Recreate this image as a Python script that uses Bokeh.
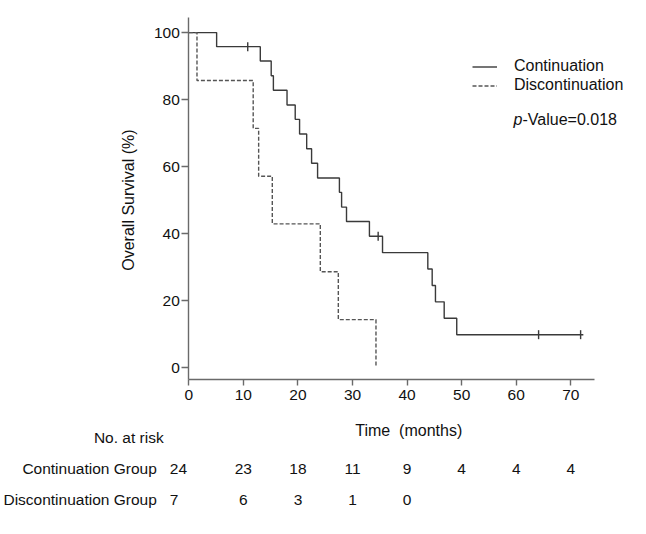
import numpy as np
from bokeh.plotting import figure
from bokeh.models import Range1d, Legend, LegendItem, FixedTicker
from bokeh.embed import file_html
from bokeh.resources import INLINE
from bokeh.core.properties import value

# ---------------- data ----------------
cont_time = [0, 5.1, 13.1, 15.1, 15.5, 18.0, 19.5, 20.3, 21.6, 22.5, 23.6,
             27.6, 28.0, 28.9, 33.1, 35.5, 43.8, 44.6, 45.2, 46.8, 49.1, 72.3]
cont_surv = [100, 95.8, 91.5, 87.1, 82.8, 78.4, 74.1, 69.7, 65.3, 61.0, 56.6,
             52.3, 47.9, 43.6, 39.2, 34.3, 29.4, 24.5, 19.6, 14.7, 9.8, 9.8]
cont_cens_time = [10.8, 34.7, 64.1, 71.8]
cont_cens_surv = [95.8, 39.2, 9.8, 9.8]

disc_time = [0, 1.5, 11.8, 12.8, 15.3, 24.1, 27.4, 34.3]
disc_surv = [100, 85.7, 71.4, 57.1, 42.9, 28.6, 14.3, 0]

x_ticks = [0, 10, 20, 30, 40, 50, 60, 70]
y_ticks = [0, 20, 40, 60, 80, 100]

risk_times = [0, 10, 20, 30, 40, 50, 60, 70]
risk_cont = [24, 23, 18, 11, 9, 4, 4, 4]
risk_disc = [7, 6, 3, 1, 0]

# ---------------- layout / style ----------------
FONT = "Liberation Sans"
TXT = "#111111"
AX = "#6a6a6a"
LINE1 = "#3a3a3a"
LINE2 = "#555555"
W, H = 640, 520

# axis extents (data units) and where they sit on the canvas (px)
X_AXIS = (0, 74.4)
Y_AXIS = (-3.6, 104.5)
X0_PX, X_SCALE = 188.3, 5.457      # px of x=0, px per month
Y0_PX, Y_SCALE = 367.0, 3.349      # px (from top) of y=0, px per %

x_range = Range1d(-X0_PX / X_SCALE, (W - X0_PX) / X_SCALE)
y_range = Range1d((Y0_PX - H) / Y_SCALE, Y0_PX / Y_SCALE)

p = figure(width=W, height=H, output_backend="svg", toolbar_location=None,
           x_range=x_range, y_range=y_range,
           min_border_left=0, min_border_right=0, min_border_top=0, min_border_bottom=0)
p.outline_line_color = None
p.grid.visible = False

for ax in (p.xaxis[0], p.yaxis[0]):
    ax.axis_line_color = AX
    ax.axis_line_width = 1.4
    ax.major_tick_line_color = AX
    ax.major_tick_line_width = 1.4
    ax.major_tick_in = 0
    ax.minor_tick_line_color = None
    ax.major_label_text_font = FONT
    ax.major_label_text_font_size = "15.5px"
    ax.major_label_text_color = TXT
p.xaxis.ticker = FixedTicker(ticks=x_ticks)
p.yaxis.ticker = FixedTicker(ticks=y_ticks)
p.xaxis.fixed_location = Y_AXIS[0]
p.yaxis.fixed_location = X_AXIS[0]
p.xaxis.bounds = X_AXIS
p.yaxis.bounds = Y_AXIS
p.xaxis.major_tick_out = 6
p.xaxis.major_label_standoff = 4
p.yaxis.major_tick_out = 7
p.yaxis.major_label_standoff = 2

# axis titles
p.text(x=[X_AXIS[0]], y=[(y_ticks[0] + y_ticks[-1]) / 2], text=["Overall Survival (%)"],
       x_offset=-60, angle=np.pi / 2, text_align="center", text_baseline="middle",
       text_font=value(FONT), text_font_size="16px", text_color=TXT)
p.text(x=[40.3], y=[Y_AXIS[0]], y_offset=51, text=["Time \u00a0(months)"],
       text_align="center", text_baseline="middle",
       text_font=value(FONT), text_font_size="16px", text_color=TXT)

# curves
r1 = p.step(cont_time, cont_surv, mode="after", line_color=LINE1, line_width=1.4)
r2 = p.step(disc_time, disc_surv, mode="after", line_color=LINE2, line_width=1.4,
            line_dash="4 2")
p.scatter(cont_cens_time, cont_cens_surv, marker="dash", angle=np.pi / 2, size=9,
          line_color=LINE1, line_width=1.4)

legend = Legend(items=[LegendItem(label="Continuation", renderers=[r1]),
                       LegendItem(label="Discontinuation", renderers=[r2])],
                location=(472, 426), padding=0, margin=0, spacing=1,
                glyph_width=25, glyph_height=15, label_height=15, label_standoff=17,
                border_line_color=None, background_fill_alpha=0,
                label_text_font=FONT, label_text_font_size="16px",
                label_text_color=TXT)
p.add_layout(legend)

PV_X, PV_Y = 59.5, 74.0
p.text(x=[PV_X], y=[PV_Y], text=["p"], text_font=value(FONT), text_font_style="italic",
       text_font_size="16px", text_color=TXT, text_align="left", text_baseline="middle")
p.text(x=[PV_X], y=[PV_Y], text=["-Value=0.018"], x_offset=9, text_font=value(FONT),
       text_font_size="16px", text_color=TXT, text_align="left", text_baseline="middle")

# ---------------- risk table (rows hang below the x axis) ----------------
ROW_HEAD, ROW_C, ROW_D = 58, 89, 120   # px below the x-axis line
TXT_KW = dict(text_font=value(FONT), text_font_size="15.5px", text_color=TXT,
              text_baseline="middle")
yb = Y_AXIS[0]

p.text(x=[risk_times[0]], y=[yb], y_offset=ROW_HEAD, text=["No. at risk"], x_offset=-60,
       text_align="center", **TXT_KW)
p.text(x=[risk_times[0]], y=[yb], y_offset=ROW_C, text=["Continuation Group"],
       x_offset=-32, text_align="right", **TXT_KW)
p.text(x=[risk_times[0]], y=[yb], y_offset=ROW_D, text=["Discontinuation Group"],
       x_offset=-32, text_align="right", **TXT_KW)
p.text(x=[risk_times[0]], y=[yb], y_offset=ROW_C, text=[str(risk_cont[0])],
       x_offset=-19, text_align="left", **TXT_KW)
p.text(x=[risk_times[0]], y=[yb], y_offset=ROW_D, text=[str(risk_disc[0])],
       x_offset=-19, text_align="left", **TXT_KW)
p.text(x=risk_times[1:], y=[yb] * (len(risk_cont) - 1), y_offset=ROW_C,
       text=[str(v) for v in risk_cont[1:]], text_align="center", **TXT_KW)
p.text(x=risk_times[1:len(risk_disc)], y=[yb] * (len(risk_disc) - 1), y_offset=ROW_D,
       text=[str(v) for v in risk_disc[1:]], text_align="center", **TXT_KW)

open("out.html", "w").write(file_html(p, INLINE))
